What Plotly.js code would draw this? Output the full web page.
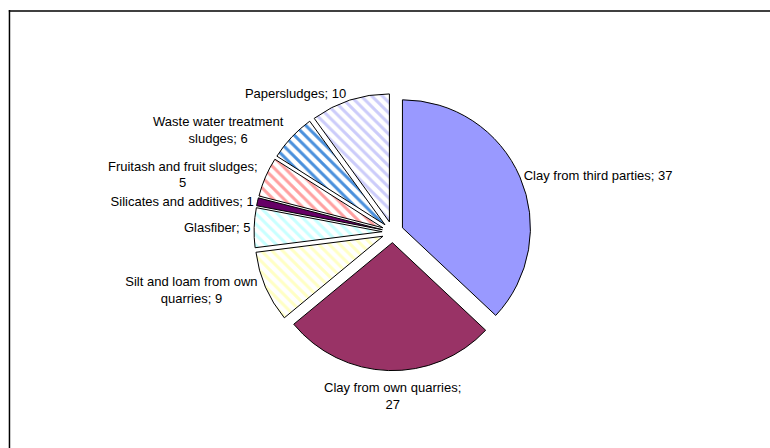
<!DOCTYPE html>
<html>
<head>
<meta charset="utf-8">
<script src="https://cdn.plot.ly/plotly-3.0.1.min.js"></script>
<style>html,body{margin:0;padding:0;background:#fff;}#chart{width:770px;height:448px;}</style>
</head>
<body>
<div id="chart"></div>
<script>
// Data
const categories = [
  "Clay from third parties",
  "Clay from own quarries",
  "Silt and loam from own quarries",
  "Glasfiber",
  "Silicates and additives",
  "Fruitash and fruit sludges",
  "Waste water treatment sludges",
  "Papersludges"
];
const values = [37, 27, 9, 5, 1, 5, 6, 10];
const labelText = [
  "Clay from third parties; ",
  "Clay from own quarries;<br>",
  "Silt and loam from own<br>quarries; ",
  "Glasfiber; ",
  "Silicates and additives; ",
  "Fruitash and fruit sludges;<br>",
  "Waste water treatment<br>sludges; ",
  "Papersludges; "
];

// Styles
const fillColors = ["#9999FF", "#993366", "#FFFFFF", "#FFFFFF", "#660066", "#FFFFFF", "#FFFFFF", "#FFFFFF"];
const patternShapes = ["", "", "\\", "\\", "", "\\", "\\", "\\"];
const patternFg = ["#9999FF", "#993366", "#FFFFC4", "#C8FFFF", "#660066", "#FFA0A0", "#4A90DC", "#CCCCFA"];
// the bottom slice's label is centred under the pie (as in the original), so it is drawn as an annotation
const textPositions = ["outside", "none", "outside", "outside", "outside", "outside", "outside", "outside"];

const pieDomain = { x: [0.2, 0.82], y: [0.1727, 0.7915] };
const fontFamily = "Liberation Sans, Arial, sans-serif";

const trace = {
  type: "pie",
  labels: categories,
  values: values,
  text: labelText,
  texttemplate: "%{text}%{value}",
  textinfo: "text",
  textposition: textPositions,
  sort: false,
  direction: "clockwise",
  rotation: 0,
  pull: values.map(() => 0.083),
  hoverinfo: "label+value",
  marker: {
    colors: fillColors,
    line: { color: "#000000", width: 1 },
    pattern: {
      shape: patternShapes,
      fgcolor: patternFg,
      bgcolor: "#FFFFFF",
      size: 7.5,
      solidity: 0.4,
      fillmode: "replace"
    }
  },
  outsidetextfont: { family: fontFamily, size: 13, color: "#000000" },
  domain: pieDomain,
  showlegend: false
};

const annotations = [];
textPositions.forEach((p, i) => {
  if (p === "none") {
    annotations.push({
      xref: "paper", yref: "paper",
      x: (pieDomain.x[0] + pieDomain.x[1]) / 2,
      y: pieDomain.y[0] - 7 / 448,
      xanchor: "center", yanchor: "top", align: "center",
      showarrow: false,
      text: labelText[i] + values[i],
      font: { family: fontFamily, size: 13, color: "#000000" }
    });
  }
});

const layout = {
  width: 770,
  height: 448,
  margin: { l: 0, r: 0, t: 0, b: 0 },
  paper_bgcolor: "#FFFFFF",
  font: { family: fontFamily, size: 13, color: "#000000" },
  showlegend: false,
  annotations: annotations,
  shapes: [
    { type: "line", xref: "paper", yref: "paper", x0: 0.0115, x1: 1, y0: 1 - 11 / 448, y1: 1 - 11 / 448,
      line: { color: "#404040", width: 2 } },
    { type: "line", xref: "paper", yref: "paper", x0: 0.0123, x1: 0.0123, y0: 0, y1: 1 - 10 / 448,
      line: { color: "#000000", width: 1.5 } }
  ]
};

Plotly.newPlot("chart", [trace], layout, { displayModeBar: false, staticPlot: true });
</script>
</body>
</html>
